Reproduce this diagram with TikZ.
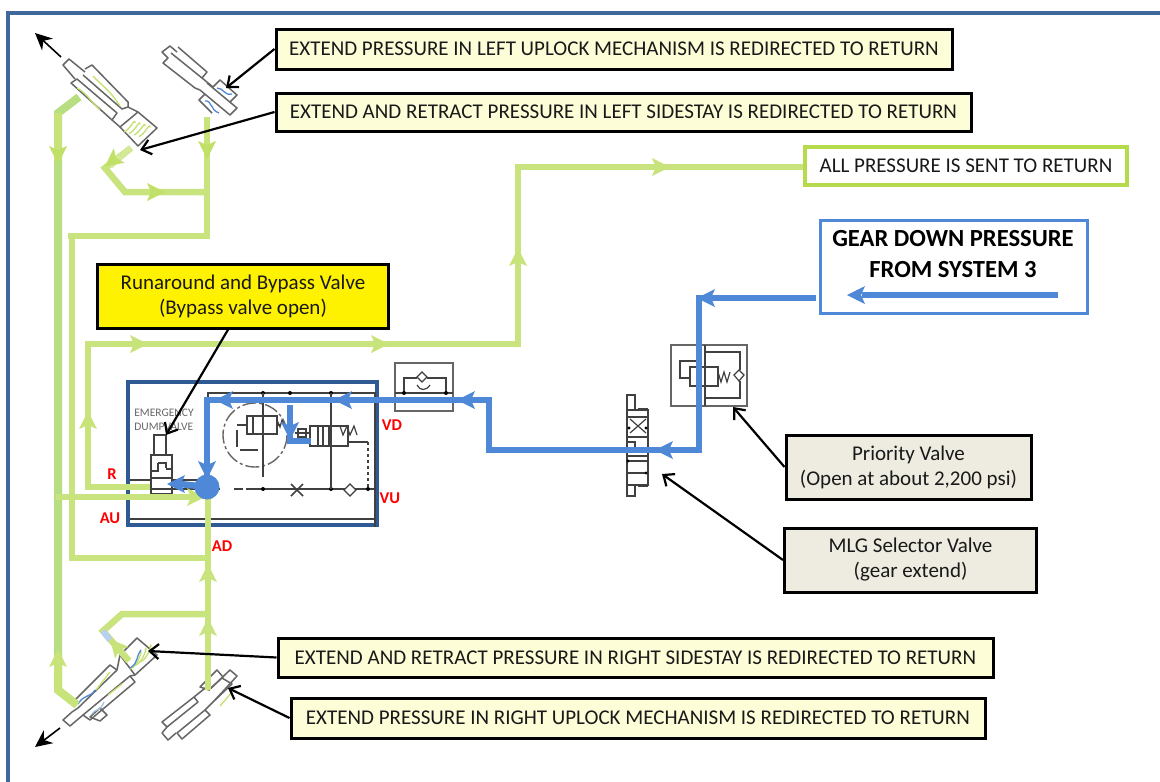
\documentclass[tikz,border=0pt]{standalone}
\usepackage{fontspec}
\setmainfont{Carlito}
\usetikzlibrary{arrows.meta,calc}
\definecolor{frameblue}{HTML}{41689A}
\definecolor{blockblue}{HTML}{2F5A93}
\definecolor{flowblue}{HTML}{4F88D6}
\definecolor{glight}{HTML}{C9E37E}
\definecolor{gmid}{HTML}{B7DE80}
\definecolor{gstrong}{HTML}{B5DA4C}
\definecolor{note}{HTML}{FDFDD8}
\definecolor{tan}{HTML}{EEECE1}
\definecolor{cyl}{HTML}{666666}
\newcommand{\flowhead}[4]{\fill[#4,shift={(#1,#2)},rotate=#3] (9,0)--(-9,9)--(-5,0)--(-9,-9)--cycle;}
\tikzset{
  noteboxa/.style={draw=black,line width=3pt,fill=note,inner sep=0pt,align=center,text=black!90,font=\fontsize{21}{25}\selectfont},
  tanbox/.style={noteboxa,fill=tan},
  yellowbox/.style={noteboxa,fill=yellow},
  callout/.style={draw=black,line width=2.2pt,-{Straight Barb[length=9pt,width=15pt,line width=2.2pt]}},
  motion/.style={draw=black,line width=1.6pt,-{Stealth[length=17pt,width=16pt]}},
  gline/.style={draw=glight,line width=6.5pt,line join=miter},
  gline2/.style={draw=gmid,line width=8pt,line join=miter},
  bline/.style={draw=flowblue,line width=6.5pt,line join=miter},
  cylinder part/.style={draw=cyl,line width=1.5pt,line join=round},
  schem/.style={draw=black!75,line width=1.2pt},
  schemg/.style={draw=black!60,line width=1.4pt},
  redlab/.style={text=red,font=\fontsize{16.5}{18}\bfseries\selectfont},
  wave/.style={draw=gstrong!80,line width=1.3pt},
  waveb/.style={draw=flowblue,line width=1.3pt}
}
\begin{document}
\begin{tikzpicture}[x=1pt,y=-1pt]
\useasboundingbox (0,0) rectangle (1160,782);
\fill[white] (0,0) rectangle (1160,782);
\draw[frameblue,line width=3.5pt] (8,790) -- (8,13) -- (1170,13);

% ---- valve block schematic
\draw[blockblue,line width=3.5pt] (128,382) rectangle (377,525);
\draw[schem] (208,400) -- (208,393) -- (375,393) -- (375,527);
\draw[schem] (130,489) -- (220,489) (234,489) -- (243,489) (246,489) -- (375,489);
\draw[schem,line width=1.5pt] (130,519) -- (375,519);
\foreach \p in {(263,393),(290,393),(331,393),(263,489),(331,489),(368,489)} \fill \p circle (2pt);
\draw[schemg,dash pattern=on 14pt off 3pt on 3pt off 3pt] (255,435) circle (32);
\draw[schem,line width=1.5pt] (247,416) rectangle (277,434);
\draw[schem] (263,393) -- (263,477);
\draw[schem] (253,416) -- (253,434) (247,425) -- (237,425) (277,425) -- (281,425);
\draw[schem] (277,420) -- (280,427) -- (282,420) -- (285,427);
\draw[schem,line width=1.5pt] (237,430) -- (237,447) (240,450) -- (258,450);
\draw[schem,line width=1.5pt] (310,426) rectangle (348,446);
\draw[schem] (329,426) -- (329,446) (318,426) -- (318,446) (323,426)--(323,446);
\draw[schem] (331,393) -- (331,489);
\draw[schem] (348,442) -- (368,442);
\draw[schem,dashed] (368,442) -- (368,489);
\draw[schem] (340,426) -- (343,435) -- (347,426) -- (350,435) -- (354,426) -- (357,435);
\draw[schem] (295,433) -- (310,433) (298,429) rectangle (306,437);
\draw[schem,line width=1.6pt] (291,484) -- (303,496) (303,484) -- (291,496);
\draw[schem,fill=white] (350,484) -- (356,490) -- (350,496) -- (344,490) -- cycle;
\node[inner sep=0pt,align=left,text=black!60,font=\fontsize{11.5}{14}\selectfont] (dumplabel) at (164,420) {EMERGENCY\\DUMPVALVE};
\draw[schem,line width=1.3pt] (154,455) -- (154,435) -- (166,435) -- (166,455);
\draw[schem,line width=1.3pt] (151,455) rectangle (172,494);
\draw[schem,line width=1.3pt] (151,478) -- (172,478) (158,463) -- (158,471) -- (151,471) (158,463) -- (166,463) -- (166,468) (166,469) -- (172,469);
\draw[schem] (130,480) -- (150,480) (172,480) -- (200,480);

% ---- check valve block
\draw[schemg] (395,363) rectangle (453,411);
\draw[schem] (395,393) -- (453,393) (404,393) -- (404,378) -- (417,378) (427,378) -- (446,378) -- (446,393);
\draw[schem,fill=white] (422,372) -- (427,377) -- (422,382) -- (417,377) -- cycle;
\draw[schem] (417,385) .. controls (420,391) and (426,391) .. (430,385);
\fill (404,393) circle (2pt) (446,393) circle (2pt);

% ---- priority valve
\draw[schemg] (671,345) rectangle (747,406);
\draw[schem,line width=1.3pt] (705,345) -- (705,406) (705,352) -- (740,352) -- (740,370) (740,381) -- (740,398) -- (705,398);
\draw[schem,line width=1.3pt] (690,367) rectangle (718,386);
\draw[schem] (697,361) -- (680,361) -- (680,378) -- (690,378);
\draw[schem] (718,372) -- (721,382) -- (724,372) -- (727,382) -- (730,372);
\draw[schem,fill=white] (739,370) -- (744,375) -- (739,381) -- (734,375) -- cycle;

% ---- selector valve
\draw[schem,line width=1.3pt] (627,395) rectangle (635,496);
\draw[schem,fill=white,line width=1.3pt] (627,410) rectangle (648,485);
\draw[schem] (627,417) -- (648,417) (627,437) -- (648,437) (627,456) -- (648,456) (627,473) -- (648,473);
\draw[schem] (630,419) -- (646,433) (646,419) -- (630,433);
\draw[schem] (627,442) -- (635,442) -- (635,450) (627,461) -- (648,461);
\fill (629,428) circle (1.6pt) (646,428) circle (1.6pt) (628,461) circle (1.6pt) (646,473) circle (1.6pt);
\draw[schem,line width=1.5pt] (638,409) -- (648,409) (638,486) -- (648,486);

% ---- cylinders: top left actuator
\draw[cylinder part] (75,79) -- (63,65) -- (69,59) -- (85,72);
\draw[cylinder part] (85,69) -- (92,65) -- (128,102) -- (128,107) -- (122,109) -- (83,75);
\draw[cylinder part] (71,83) -- (77,79) -- (117,113) -- (112,120) -- cycle;
\draw[cylinder part] (120,127) -- (138,112) -- (157,128) -- (138,146) -- cycle;
\draw[cylinder part] (112,120) -- (120,127) (128,107) -- (138,112);
\foreach \d in {0,5,10,15}
  \draw[wave] ($(124,134)+(\d,\d*.3-2)$) .. controls +(6,-2) and +(0,-6) .. +(11,-9);
\draw[wave] (77,88) .. controls (85,92) and (90,100) .. (100,110);
\draw[wave] (93,76) .. controls (100,84) and (110,90) .. (120,106);

% top uplock
\draw[cylinder part] (178,47) -- (207,72) -- (202,78) -- (171,53);
\draw[cylinder part] (177,52) -- (170,46) -- (162,52) -- (168,58) -- (163,63) -- (195,88);
\draw[cylinder part] (195,88) -- (200,90) (202,78) -- (213,87);
\draw[cylinder part] (200,90) -- (230,115) -- (237,108) -- (207,83);
\draw[cylinder part] (213,87) -- (220,80) -- (237,95) -- (230,102);
\draw[cylinder part] (205,94) -- (199,100) -- (212,113) ;
\draw[waveb] (217,88) .. controls (224,88) and (224,96) .. (232,94);
\draw[waveb] (205,101) .. controls (212,100) and (210,110) .. (219,113);

% bottom left actuator
\draw[cylinder part] (83,715) -- (70,726) -- (63,720) -- (72,712);
\draw[cylinder part] (72,703) -- (110,665) -- (117,670) -- (78,708) -- (72,712);
\draw[cylinder part] (83,715) -- (130,676) -- (135,682) -- (90,720) -- cycle;
\draw[cylinder part] (90,717) -- (100,708) -- (107,715) -- (100,721) -- cycle;
\draw[cylinder part] (120,655) -- (137,638) -- (157,655) -- (135,675) -- cycle;
\draw[cylinder part] (117,670) -- (120,655) (130,676) -- (135,675);
\foreach \d in {0,5,10}
  \draw[wave] ($(130,669)+(\d,-\d*.7)$) .. controls +(9,-3) and +(3,-8) .. +(10,-15);
\draw[waveb] (130,668) .. controls (139,663) and (136,655) .. (141,650);
\draw[waveb] (78,704) .. controls (84,694) and (90,698) .. (95,690);
\draw[wave] (96,690) -- (110,672);
\draw[wave] (108,695) -- (122,684);
\draw[draw=flowblue!50,line width=1.3pt] (92,714) .. controls (96,708) and (100,712) .. (104,702);

% bottom uplock
\draw[cylinder part] (162,722) -- (194,697) -- (198,702) -- (167,727) -- cycle;
\draw[cylinder part] (162,733) -- (168,740) -- (176,733) (167,727) -- (162,733);
\draw[cylinder part] (177,733) -- (205,710) -- (210,715) -- (182,739) -- cycle;
\draw[cylinder part] (194,697) -- (209,685) (205,710) -- (215,700);
\draw[cylinder part] (200,687) -- (217,670) -- (223,677) -- (209,690) -- cycle;
\draw[cylinder part] (215,700) -- (237,676) -- (230,670) -- (209,690);
\draw[cylinder part] (222,678) -- (232,684) -- (215,700);
\draw[wave] (220,706) -- (232,692);

% ---- return lines
\draw[gline2] (79,97) -- (58,113) -- (58,690) -- (77,705);
\draw[gline] (207,117) -- (207,236) -- (68,236);
\draw[gline] (72,236) -- (72,558) -- (208,558);
\draw[gline] (207,192) -- (125,192) -- (105,168) -- (131,148);
\draw[gline] (208,690) -- (208,497);
\draw[gline] (208,614) -- (122,614) -- (103,631) -- (129,661);
\draw[gline] (150,487) -- (85,487);
\draw[gline] (88,487) -- (88,344) -- (518,344) -- (518,167) -- (805,167);
\draw[gline] (56,497) -- (200,497);
\draw[draw=gstrong!75,line width=8pt] (58,113) -- (58,160);
\draw[draw=gstrong!75,line width=8pt] (58,655) -- (58,690) -- (77,705);
\draw[draw=gstrong!75,line width=6.5pt] (207,117) -- (207,155);
\draw[draw=gstrong!75,line width=6.5pt] (208,550) -- (208,612);
\draw[draw=gstrong!75,line width=6.5pt] (88,420) -- (88,445);
\draw[draw=gstrong!75,line width=6.5pt] (118,344) -- (140,344);
\draw[draw=gstrong!60,line width=6pt] (131,148) -- (110,166);
\draw[draw=flowblue!40,line width=6pt] (103,631) -- (110,640);
\flowhead{58}{155}{-90}{gstrong!85}
\flowhead{207}{150}{-90}{gstrong!85}
\flowhead{156}{192}{0}{gstrong!85}
\flowhead{112}{161}{-143}{gstrong!85}
\flowhead{58}{658}{90}{gstrong!75}
\flowhead{208}{573}{90}{glight}
\flowhead{208}{627}{90}{glight}
\flowhead{88}{420}{90}{gstrong!75}
\flowhead{139}{344}{0}{gstrong!75}
\flowhead{380}{344}{0}{gstrong!75}
\flowhead{518}{257}{90}{gstrong!75}
\flowhead{661}{167}{0}{gstrong!75}
\flowhead{196}{497}{0}{gstrong!75}
\flowhead{116}{646}{131}{gstrong!75}

% ---- notes
\node[noteboxa,minimum width=676pt,minimum height=40pt] (uplockL) at (614,49) {EXTEND PRESSURE IN LEFT UPLOCK MECHANISM IS REDIRECTED TO RETURN};
\node[noteboxa,minimum width=695pt,minimum height=38pt] (stayL) at (623.5,112) {EXTEND AND RETRACT PRESSURE IN LEFT SIDESTAY IS REDIRECTED TO RETURN};
\node[draw=gstrong,line width=4.5pt,fill=white,inner sep=0pt,text=black!90,font=\fontsize{21}{25}\selectfont,minimum width=322pt,minimum height=38pt] (allret) at (966,166) {ALL PRESSURE IS SENT TO RETURN};
\node[draw=flowblue,line width=3pt,fill=white,inner sep=0pt,minimum width=267pt,minimum height=93pt] (gear) at (954,267) {};
\node[align=center,inner sep=0pt,font=\fontsize{24.6}{31}\bfseries\selectfont] (geartext) at (953,254) {GEAR DOWN PRESSURE\\FROM SYSTEM 3};
\node[yellowbox,minimum width=291pt,minimum height=64pt] (bypass) at (243,296) {Runaround and Bypass Valve\\(Bypass valve open)};
\node[tanbox,minimum width=245pt,minimum height=64pt] (prio) at (908.5,467) {Priority Valve\\(Open at about 2,200 psi)};
\node[tanbox,minimum width=252pt,minimum height=64pt] (mlg) at (910.5,560) {MLG Selector Valve\\(gear extend)};
\node[noteboxa,minimum width=715pt,minimum height=39pt] (stayR) at (635.5,657.5) {EXTEND AND RETRACT PRESSURE IN RIGHT SIDESTAY IS REDIRECTED TO RETURN};
\node[noteboxa,minimum width=694pt,minimum height=40pt] (uplockR) at (638,718) {EXTEND PRESSURE IN RIGHT UPLOCK MECHANISM IS REDIRECTED TO RETURN};

% ---- blue pressure path
\coordinate (gearinner) at (1058,295);
\draw[draw=flowblue,line width=5.5pt] (gearinner) -- (862,295);
\flowhead{856}{295}{180}{flowblue}
\coordinate (pressA) at (816,298);
\coordinate (pressB) at (699,298);
\coordinate (hub) at (207,487);
\draw[bline] (pressA) -- (pressB) -- (699,450) -- (489,450) -- (489,400) -- (207,400) -- (hub);
\draw[bline] (290,405) -- (290,441) -- (311,441);
\draw[bline] (hub) -- (180,484);
\fill[flowblue] (hub) circle (12.5);
\flowhead{706}{298}{180}{flowblue}
\flowhead{664}{450}{180}{flowblue}
\flowhead{466}{400}{180}{flowblue}
\flowhead{343}{400}{180}{flowblue}
\flowhead{224}{400}{180}{flowblue}
\flowhead{207}{470}{-90}{flowblue}
\flowhead{290}{431}{-90}{flowblue}
\flowhead{176}{484}{180}{flowblue}

% ---- callouts
\coordinate (tipA) at (226,88);
\coordinate (tipB) at (140,150);
\coordinate (tipC) at (166,435);
\coordinate (tipD) at (733,407);
\coordinate (tipE) at (662,474);
\coordinate (tipF) at (148,651);
\coordinate (tipG) at (228,688);
\draw[callout] (uplockL.west) -- (tipA);
\draw[callout] (stayL.west) -- (tipB);
\draw[callout] (229,328) -- (tipC);
\draw[callout] (prio.west) -- (tipD);
\draw[callout] (mlg.west) -- (tipE);
\draw[callout] (stayR.west) -- (tipF);
\draw[callout] (uplockR.west) -- (tipG);
\coordinate (mTopA) at (61,57);
\coordinate (mTopB) at (35,33);
\coordinate (mBotA) at (60,728);
\coordinate (mBotB) at (35,747);
\draw[motion] (mTopA) -- (mTopB);
\draw[motion] (mBotA) -- (mBotB);

% ---- port labels
\node[redlab] (lR) at (112,474) {R};
\node[redlab] (lAU) at (110,518) {AU};
\node[redlab] (lAD) at (222,546) {AD};
\node[redlab] (lVD) at (392,425) {VD};
\node[redlab] (lVU) at (390,498) {VU};
\end{tikzpicture}
\end{document}
